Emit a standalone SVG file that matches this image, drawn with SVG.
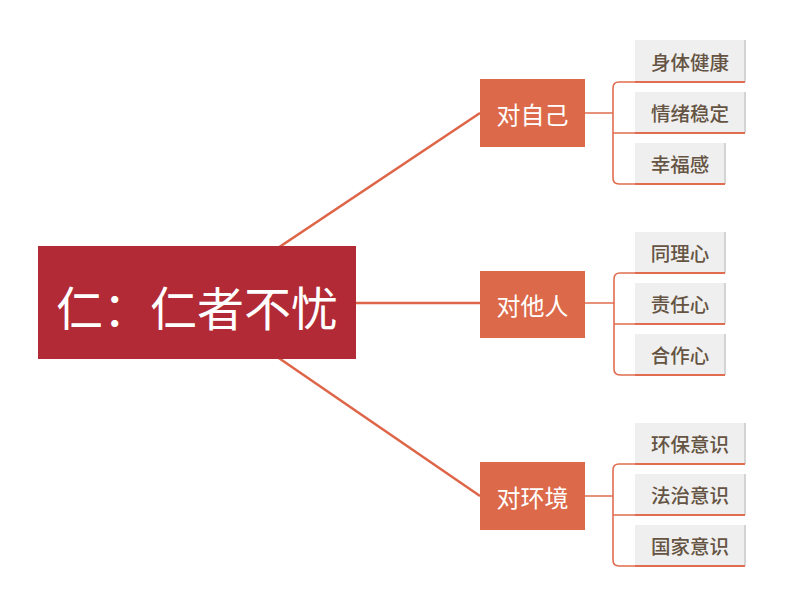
<svg xmlns="http://www.w3.org/2000/svg" width="803" height="600" viewBox="0 0 803 600">
<style>
.conn{fill:none;stroke:#de6547;stroke-width:2.5}
.br{fill:none;stroke:#e06d50;stroke-width:1.6}
.root rect{fill:#b22a35}
.root text{fill:#fff;font-family:"Noto Sans CJK SC","Noto Sans",sans-serif;font-size:47px;text-anchor:middle;dominant-baseline:central}
.mid rect{fill:#dc694a}
.mid text{fill:#fff;font-family:"Noto Sans CJK SC","Noto Sans",sans-serif;font-size:24px;text-anchor:middle;dominant-baseline:central}
.leaf .sh{fill:#d4d4d4}
.leaf .bg{fill:#efefef}
.leaf line{stroke:#e06d50;stroke-width:2}
.leaf text{fill:#655443;font-family:"Noto Sans CJK SC","Noto Sans",sans-serif;font-size:19.5px;font-weight:500;text-anchor:middle;dominant-baseline:central}
</style>
<rect width="803" height="600" fill="#fff"/>
<g id="connectors">
<line class="conn" x1="197" y1="302" x2="480" y2="113"/>
<line class="conn" x1="197" y1="303" x2="480" y2="303"/>
<line class="conn" x1="197" y1="302" x2="480" y2="496"/>
<path class="br" d="M585 113H613M635 82H619Q613 82 613 88V178Q613 184 619 184H635M613 133H635"/>
<path class="br" d="M585 303H614M635 273H620Q614 273 614 279V369Q614 375 620 375H635M614 324H635"/>
<path class="br" d="M585 496H613M635 464H619Q613 464 613 470V560Q613 566 619 566H635M613 515H635"/>
</g>
<g id="root" class="root"><rect x="38" y="246" width="318" height="113"/><text x="197" y="305">仁：仁者不忧</text></g>
<g id="n1" class="mid"><rect x="480" y="79" width="105" height="68"/><text x="532.5" y="113">对自己</text></g>
<g id="n2" class="mid"><rect x="480" y="271" width="105" height="67"/><text x="532.5" y="304">对他人</text></g>
<g id="n3" class="mid"><rect x="480" y="462" width="105" height="68"/><text x="532.5" y="496">对环境</text></g>
<g id="l1" class="leaf"><rect class="sh" x="636" y="40" width="110" height="42"/><rect class="bg" x="635" y="40" width="109" height="42"/><line x1="635" y1="82" x2="745" y2="82"/><text x="690" y="61">身体健康</text></g>
<g id="l2" class="leaf"><rect class="sh" x="636" y="92" width="110" height="41"/><rect class="bg" x="635" y="92" width="109" height="41"/><line x1="635" y1="133" x2="745" y2="133"/><text x="690" y="112">情绪稳定</text></g>
<g id="l3" class="leaf"><rect class="sh" x="636" y="143" width="90" height="41"/><rect class="bg" x="635" y="143" width="89" height="41"/><line x1="635" y1="184" x2="725" y2="184"/><text x="680" y="163.5">幸福感</text></g>
<g id="l4" class="leaf"><rect class="sh" x="636" y="232" width="90" height="41"/><rect class="bg" x="635" y="232" width="89" height="41"/><line x1="635" y1="273" x2="725" y2="273"/><text x="680" y="252.5">同理心</text></g>
<g id="l5" class="leaf"><rect class="sh" x="636" y="283" width="90" height="41"/><rect class="bg" x="635" y="283" width="89" height="41"/><line x1="635" y1="324" x2="725" y2="324"/><text x="680" y="303.5">责任心</text></g>
<g id="l6" class="leaf"><rect class="sh" x="636" y="334" width="90" height="41"/><rect class="bg" x="635" y="334" width="89" height="41"/><line x1="635" y1="375" x2="725" y2="375"/><text x="680" y="354.5">合作心</text></g>
<g id="l7" class="leaf"><rect class="sh" x="636" y="423" width="110" height="41"/><rect class="bg" x="635" y="423" width="109" height="41"/><line x1="635" y1="464" x2="745" y2="464"/><text x="690" y="443.5">环保意识</text></g>
<g id="l8" class="leaf"><rect class="sh" x="636" y="474" width="110" height="41"/><rect class="bg" x="635" y="474" width="109" height="41"/><line x1="635" y1="515" x2="745" y2="515"/><text x="690" y="494.5">法治意识</text></g>
<g id="l9" class="leaf"><rect class="sh" x="636" y="525" width="110" height="41"/><rect class="bg" x="635" y="525" width="109" height="41"/><line x1="635" y1="566" x2="745" y2="566"/><text x="690" y="545.5">国家意识</text></g>
</svg>
